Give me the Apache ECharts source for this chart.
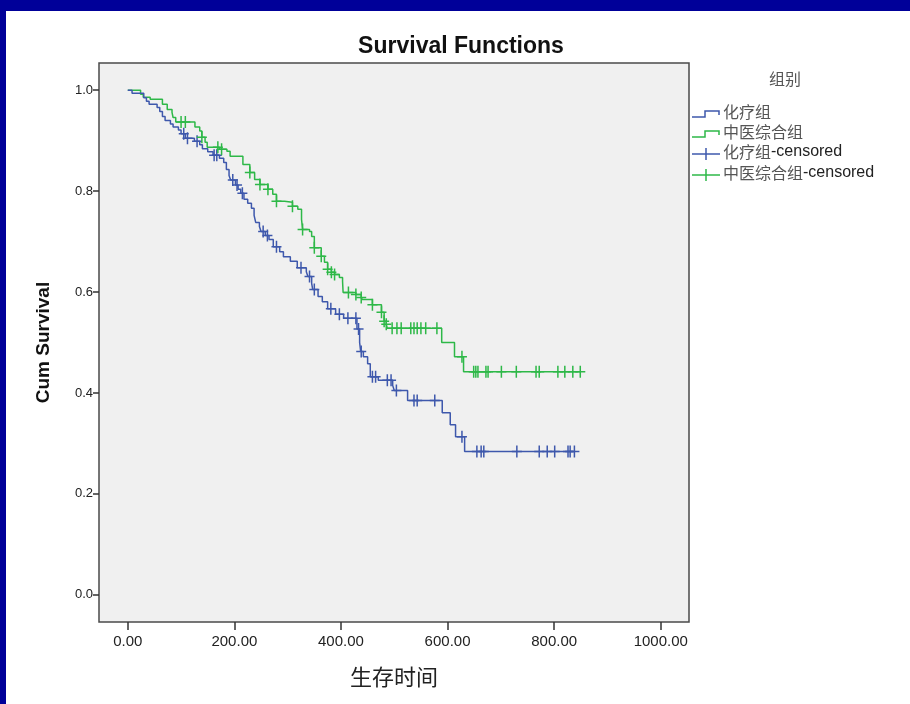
<!DOCTYPE html>
<html>
<head>
<meta charset="utf-8">
<title>Survival Functions</title>
<script src="https://cdn.jsdelivr.net/npm/echarts@6/dist/echarts.min.js"></script>
<style>
  html, body { margin: 0; padding: 0; background: #ffffff; }
  #chart { width: 910px; height: 704px; }
</style>
</head>
<body>
<div id="chart"></div>
<script>
// Kaplan-Meier estimates: event times and the survival level after each drop
const chemoName = '化疗组';
const tcmName = '中医综合组';

const chemoTimes = [0, 8, 30, 35, 40, 55, 60, 65, 70, 80, 85, 95, 100, 108, 125, 135, 140, 150, 160, 172,
  180, 185, 190, 193, 202, 207, 212, 218, 225, 232, 237, 240, 247, 250, 258, 265, 273, 285, 292, 305,
  318, 335, 338, 345, 347, 357, 365, 375, 390, 405, 430, 435, 437, 442, 450, 455, 470, 497, 500, 525,
  590, 605, 615, 632];
const chemoSurv = [1.0, 0.994, 0.985, 0.978, 0.972, 0.966, 0.958, 0.948, 0.940, 0.933, 0.927, 0.921, 0.914, 0.905, 0.899, 0.892, 0.884, 0.878, 0.871, 0.865,
  0.857, 0.843, 0.831, 0.822, 0.812, 0.804, 0.796, 0.784, 0.776, 0.766, 0.752, 0.738, 0.730, 0.720, 0.712, 0.704, 0.690, 0.680, 0.670, 0.661,
  0.648, 0.640, 0.631, 0.617, 0.605, 0.591, 0.581, 0.567, 0.556, 0.548, 0.527, 0.500, 0.482, 0.472, 0.458, 0.432, 0.425, 0.415, 0.405, 0.385,
  0.361, 0.337, 0.313, 0.284];
const chemoCensored = [105, 112, 130, 162, 167, 197, 205, 215, 254, 262, 279, 325, 341, 350, 381, 397, 413, 428,
  433, 438, 459, 465, 487, 494, 504, 537, 543, 576, 627, 655, 663, 668, 730, 772, 787, 801, 826, 830, 838];

const tcmTimes = [0, 24, 29, 42, 65, 74, 83, 85, 90, 126, 135, 139, 145, 149, 172, 186, 192, 216, 229, 238,
  248, 263, 272, 279, 294, 309, 319, 326, 328, 341, 345, 350, 363, 369, 375, 382, 388, 397, 403, 404,
  428, 438, 440, 459, 476, 481, 485, 487, 589, 613, 630];
const tcmSurv = [1.0, 0.992, 0.986, 0.982, 0.972, 0.962, 0.956, 0.946, 0.937, 0.927, 0.919, 0.907, 0.897, 0.887, 0.883, 0.879, 0.869, 0.853, 0.837, 0.823,
  0.813, 0.804, 0.794, 0.780, 0.778, 0.770, 0.764, 0.744, 0.724, 0.720, 0.710, 0.688, 0.671, 0.659, 0.645, 0.639, 0.635, 0.629, 0.621, 0.599,
  0.595, 0.589, 0.585, 0.575, 0.560, 0.542, 0.536, 0.528, 0.500, 0.472, 0.442];
const tcmCensored = [100, 108, 139, 169, 176, 229, 248, 263, 279, 309, 328, 350, 363, 375, 382, 388, 414, 428,
  438, 459, 476, 481, 485, 496, 505, 513, 531, 537, 543, 550, 559, 580, 627, 649, 653, 657, 672, 676,
  701, 729, 766, 772, 807, 820, 835, 849];

const xTicks = [0, 200, 400, 600, 800, 1000];
const yTicks = [0, 0.2, 0.4, 0.6, 0.8, 1.0];

const BLUE = '#3e58ac';
const GREEN = '#2eb848';
const FONT = "'Liberation Sans', Arial, 'Noto Sans CJK SC', sans-serif";
const CJK = "'Noto Sans CJK SC', sans-serif";

// step curve: horizontal to each event time, then down; runs to the last follow-up time
function stepData(times, surv, censored) {
  const pts = times.map((t, i) => [t, surv[i]]);
  const last = Math.max(times[times.length - 1], censored[censored.length - 1]);
  pts.push([last, surv[surv.length - 1]]);
  return pts;
}
// survival level in effect at time t
function levelAt(times, surv, t) {
  let s = surv[0];
  for (let i = 0; i < times.length; i++) { if (times[i] <= t) s = surv[i]; }
  return s;
}
function censorData(times, surv, censored) {
  return censored.map(t => [t, levelAt(times, surv, t)]);
}

// thin plus sign used for censored cases
const PLUS = 'path://M8.5,0 H11.5 V10.5 H20 V13.5 H11.5 V24 H8.5 V13.5 H0 V10.5 H8.5 Z';

const chart = echarts.init(document.getElementById('chart'), null, { renderer: 'canvas' });

// legend drawn at the right of the plot
const legendX = 692, legendRows = [114, 134, 154, 175];
const legendItems = [
  { cjk: chemoName, lat: '', color: BLUE, step: true },
  { cjk: tcmName, lat: '', color: GREEN, step: true },
  { cjk: chemoName, lat: '-censored', color: BLUE, step: false },
  { cjk: tcmName, lat: '-censored', color: GREEN, step: false }
];
const legendGraphics = [{
  type: 'text', left: 769, top: 71,
  style: { text: '组别', font: '16px ' + CJK, fill: '#555555' }
}];
legendItems.forEach((it, i) => {
  const c = legendRows[i];
  if (it.step) {
    legendGraphics.push({
      type: 'polyline',
      shape: { points: [[legendX, c + 3], [legendX + 13, c + 3], [legendX + 13, c - 3], [legendX + 27, c - 3], [legendX + 27, c + 1]] },
      style: { stroke: it.color, lineWidth: 1.5, fill: null }
    });
  } else {
    legendGraphics.push({
      type: 'line', shape: { x1: legendX, y1: c, x2: legendX + 28, y2: c },
      style: { stroke: it.color, lineWidth: 1.5 }
    });
    legendGraphics.push({
      type: 'line', shape: { x1: legendX + 14, y1: c - 6, x2: legendX + 14, y2: c + 6 },
      style: { stroke: it.color, lineWidth: 1.5 }
    });
  }
  legendGraphics.push({
    type: 'text', left: legendX + 31, top: c - 10,
    style: {
      text: '{a|' + it.cjk + '}' + (it.lat ? '{b|' + it.lat + '}' : ''),
      rich: {
        a: { font: '16px ' + CJK, fill: '#555555' },
        b: { font: '16px ' + FONT, fill: '#222222' }
      }
    }
  });
});

const option = {
  backgroundColor: '#ffffff',
  animation: false,
  title: {
    text: 'Survival Functions',
    left: 456, top: 30, textAlign: 'center',
    textStyle: { fontFamily: FONT, fontWeight: 'bold', fontSize: 23, color: '#111111' }
  },
  grid: {
    left: 99, top: 63, width: 590, height: 559,
    show: true, backgroundColor: '#f0f0f0', borderColor: '#4a4a4a', borderWidth: 1.5
  },
  xAxis: {
    type: 'value', min: -54, max: 1053,
    name: '生存时间', nameLocation: 'middle', nameGap: 44,
    nameTextStyle: { fontFamily: CJK, fontSize: 22, color: '#222222' },
    axisLine: { show: false, onZero: false },
    splitLine: { show: false },
    axisTick: { show: true, inside: false, length: 8, customValues: xTicks, lineStyle: { color: '#333333', width: 1.5 } },
    axisLabel: { customValues: xTicks, margin: 12, fontFamily: FONT, fontSize: 15, color: '#222222',
      formatter: v => v.toFixed(2) }
  },
  yAxis: {
    type: 'value', min: -0.054, max: 1.054,
    name: 'Cum Survival', nameLocation: 'middle', nameGap: 46, nameRotate: 90,
    nameTextStyle: { fontFamily: FONT, fontWeight: 'bold', fontSize: 19, color: '#111111' },
    axisLine: { show: false, onZero: false },
    splitLine: { show: false },
    axisTick: { show: true, inside: false, length: 6, customValues: yTicks, lineStyle: { color: '#333333', width: 1.5 } },
    axisLabel: { customValues: yTicks, margin: 6, fontFamily: FONT, fontSize: 13, color: '#222222',
      formatter: v => v.toFixed(1) }
  },
  graphic: [
    { type: 'rect', shape: { x: 0, y: 0, width: 910, height: 11 }, style: { fill: '#000099' }, z: 100 },
    { type: 'rect', shape: { x: 0, y: 0, width: 6, height: 704 }, style: { fill: '#000099' }, z: 100 }
  ].concat(legendGraphics),
  series: [
    {
      name: chemoName, type: 'line', step: 'end', showSymbol: false,
      data: stepData(chemoTimes, chemoSurv, chemoCensored),
      lineStyle: { color: BLUE, width: 1.5 }, itemStyle: { color: BLUE }, z: 3
    },
    {
      name: tcmName, type: 'line', step: 'end', showSymbol: false,
      data: stepData(tcmTimes, tcmSurv, tcmCensored),
      lineStyle: { color: GREEN, width: 1.5 }, itemStyle: { color: GREEN }, z: 2
    },
    {
      name: chemoName + '-censored', type: 'scatter', symbol: PLUS, symbolSize: [10, 12],
      data: censorData(chemoTimes, chemoSurv, chemoCensored),
      itemStyle: { color: BLUE, opacity: 1 }, z: 4
    },
    {
      name: tcmName + '-censored', type: 'scatter', symbol: PLUS, symbolSize: [10, 12],
      data: censorData(tcmTimes, tcmSurv, tcmCensored),
      itemStyle: { color: GREEN, opacity: 1 }, z: 4
    }
  ]
};
chart.setOption(option);
</script>
</body>
</html>
